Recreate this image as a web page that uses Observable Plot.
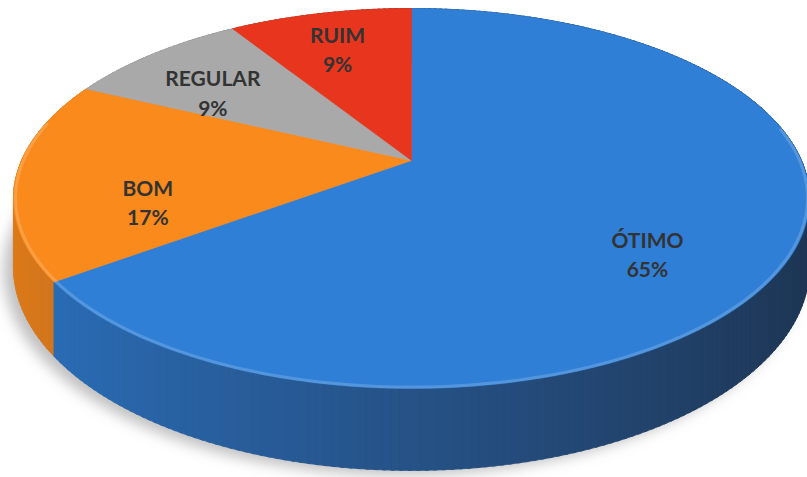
<!DOCTYPE html>
<html><head><meta charset="utf-8">
<script src="https://cdn.jsdelivr.net/npm/d3@7"></script>
<script src="https://cdn.jsdelivr.net/npm/@observablehq/plot@0.6"></script>
<style>html,body{margin:0;padding:0;background:#fff;} #chart{width:807px;height:477px;}</style>
</head><body><div id="chart"></div>
<script>
// ---- data ----
const categories = ["ÓTIMO", "BOM", "REGULAR", "RUIM"];
const values = [65, 17, 9, 9];
// ---- styles ----
const topColors = ["#2f7fd6", "#fa8a1c", "#a9a9a9", "#e8361e"];

// perspective tilt parameters (view units)
const K = 0.2, B = 0.4677, T = 0.168;
function proj(theta, r, z) {
  const u = r * Math.sin(theta), v = -r * Math.cos(theta);
  const d = 1 - K * v;
  return [u / d, (v * B + z * T) / d];
}
function sideColor(c, t) {
  const light = d3.color(c).darker(0.3);
  const dark = d3.interpolateLab(c, "#101820")(0.7);
  return d3.interpolateLab(light, dark)(t);
}
const total = d3.sum(values);
let acc = 0;
const slices = categories.map((c, i) => {
  const a0 = acc / total * 2 * Math.PI; acc += values[i];
  const a1 = acc / total * 2 * Math.PI;
  return {c, i, a0, a1, mid: (a0 + a1) / 2, color: topColors[i], value: values[i]};
});
const rad = Math.PI / 180;
function arcAngles(a0, a1) {
  const n = Math.max(2, Math.ceil((a1 - a0) / rad));
  return d3.range(n + 1).map(j => a0 + (a1 - a0) * j / n);
}

// shadow
const shadowRows = arcAngles(0, 2 * Math.PI).map(a => {
  const [x, y] = proj(a, 1.0, 1.0); return {x: x - 0.025, y: y + 0.012};
});

// side quads (painter's order back to front), closed and slightly overlapping
const quads = [];
slices.forEach(s => {
  const as = arcAngles(s.a0, s.a1);
  for (let j = 0; j < as.length - 1; j++) {
    const m = (as[j] + as[j + 1]) / 2;
    const t = Math.max(0, Math.min(1, (Math.sin(m) + 1) / 2));
    const b0 = as[j], b1 = Math.min(as[j + 1] + 0.4 * rad, s.a1);
    const p = [proj(b0, 1, 0), proj(b1, 1, 0), proj(b1, 1, 1), proj(b0, 1, 1)];
    p.push(p[0]);
    quads.push({depth: -Math.cos(m), fill: sideColor(s.color, t), pts: p});
  }
});
quads.sort((a, b) => a.depth - b.depth);
const sideRows = quads.flatMap((q, k) => q.pts.map(([x, y]) => ({id: k, x, y, fill: q.fill})));

// top faces
const topRows = slices.flatMap(s => {
  const pts = [[0, 0], ...arcAngles(s.a0, s.a1).map(a => proj(a, 1, 0)), [0, 0]];
  return pts.map(([x, y]) => ({id: s.c, x, y, fill: s.color}));
});

// rim highlight on the front edge
const rimRows = arcAngles(80 * rad, 282 * rad).map(a => {
  const [x, y] = proj(a, 0.995, 0); return {x, y};
});

// labels
const labelRows = slices.map(s => ({
  x: 0.679 * Math.sin(s.mid),
  y: -0.372 * Math.cos(s.mid) + 0.069,
  text: s.c + "\n" + s.value + "%"
}));

const plot = Plot.plot({
  width: 807, height: 477, margin: 0,
  style: {background: "#fff"},
  x: {domain: [-411 / 390, 396 / 390], axis: null},
  y: {domain: [-160 / 390, 317 / 390], reverse: true, axis: null},
  marks: [
    Plot.line(shadowRows, {x: "x", y: "y", fill: "#8a8a8a", stroke: "none", fillOpacity: 0.55}),
    Plot.line(sideRows, {x: "x", y: "y", z: "id", fill: "fill", stroke: "fill", strokeWidth: 0.8}),
    Plot.line(topRows, {x: "x", y: "y", z: "id", fill: "fill", stroke: "fill", strokeWidth: 0.6}),
    Plot.line(rimRows, {x: "x", y: "y", stroke: "#ffffff", strokeOpacity: 0.18, strokeWidth: 3}),
    Plot.text(labelRows, {x: "x", y: "y", text: "text", fontSize: 21, fontWeight: "bold",
      fontFamily: "Lato, 'Open Sans', sans-serif", fill: "#333333", lineHeight: 1.4})
  ]
});
const svg = d3.select(plot);
const filter = svg.insert("defs", ":first-child").append("filter")
  .attr("id", "shadowBlur").attr("x", "-20%").attr("y", "-20%").attr("width", "140%").attr("height", "140%");
filter.append("feGaussianBlur").attr("stdDeviation", 7);
svg.select("g[aria-label='line']").attr("filter", "url(#shadowBlur)");
document.getElementById("chart").appendChild(plot);
</script>
</body></html>
